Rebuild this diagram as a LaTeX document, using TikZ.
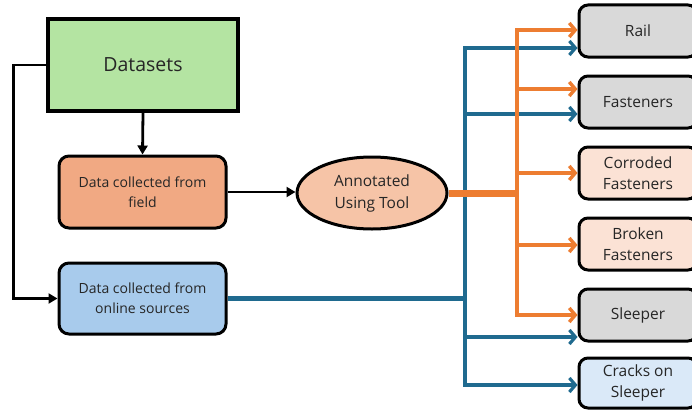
\documentclass[tikz,border=0pt]{standalone}
\usepackage{fontspec}
\setmainfont{Open Sans}
\usetikzlibrary{arrows.meta,shapes.geometric}
\definecolor{dsgreen}{HTML}{B4E4A2}
\definecolor{fieldfill}{HTML}{F1A983}
\definecolor{onlinefill}{HTML}{A8CBEC}
\definecolor{annfill}{HTML}{F6C4A7}
\definecolor{catgray}{HTML}{D9D9D9}
\definecolor{catpeach}{HTML}{FBE2D5}
\definecolor{catblue}{HTML}{DAE9F8}
\definecolor{flowor}{HTML}{ED7D31}
\definecolor{flowbl}{HTML}{1F6A8F}
\definecolor{txt}{HTML}{262626}
\tikzset{
  srcbox/.style={draw=black, line width=3pt, rounded corners=10pt, align=center, text=txt,
    minimum width=167pt, minimum height=72pt, font=\fontsize{14}{20}\selectfont},
  catbox/.style={draw=black, line width=3pt, rounded corners=9pt, align=center, text=txt,
    minimum width=118pt, minimum height=52pt, font=\fontsize{15.5}{21.5}\selectfont},
  blk/.style={draw=black, line width=2.8pt, -{Triangle[length=9pt,width=10pt]}},
  oline/.style={draw=flowor, line width=3.4pt},
  bline/.style={draw=flowbl, line width=3.2pt},
  oarr/.style={oline, -{Straight Barb[length=6pt,width=14pt]}},
  barr/.style={bline, -{Straight Barb[length=6pt,width=14pt]}},
}
\begin{document}
\begin{tikzpicture}[x=1pt,y=-1pt]
\useasboundingbox[fill=white] (0,0) rectangle (692,412);

% source boxes
\node[draw=black, line width=3.4pt, fill=dsgreen, minimum width=190pt, minimum height=92pt,
  text=txt, font=\fontsize{19.5}{22}\selectfont] (ds) at (143,65) {Datasets};
\node[srcbox, fill=fieldfill] (field) at (142.5,192) {Data collected from\\field};
\node[srcbox, fill=onlinefill, minimum height=71pt] (online) at (142.5,298.5) {Data collected from\\online sources};
\node[ellipse, draw=black, line width=3pt, fill=annfill, minimum width=150pt, minimum height=72pt,
  align=center, text=txt, font=\fontsize{15.5}{22}\selectfont, inner sep=0pt] (ann) at (372,193) {Annotated\\Using Tool};

% category boxes
\node[catbox, fill=catgray] (rail) at (638,31) {Rail};
\node[catbox, fill=catgray] (fast) at (638,102) {Fasteners};
\node[catbox, fill=catpeach] (corr) at (638,173) {Corroded\\Fasteners};
\node[catbox, fill=catpeach] (brok) at (638,244) {Broken\\Fasteners};
\node[catbox, fill=catgray] (sleep) at (638,315) {Sleeper};
\node[catbox, fill=catblue, minimum height=50pt] (crack) at (638,383) {Cracks on\\Sleeper};

% black connectors
\draw[blk] (ds.south) -- (field.north);
\draw[blk] (ds.west) -- ++(-33,0) |- (online.west);
\draw[blk] (field.east) -- (ann.west |- field.east);

% orange bus from the annotation tool
\coordinate (ojoin) at (ann.east -| 517,0);
\coordinate (oRail) at ([yshift=1pt]rail.west);
\coordinate (oFast) at ([yshift=13pt]fast.west);
\coordinate (oCorr) at (corr.west);
\coordinate (oBrok) at ([yshift=-1pt]brok.west);
\coordinate (oSleep) at (sleep.west);

% blue bus from online sources
\coordinate (bjoin) at (online.east -| 465,0);
\coordinate (bRail) at ([yshift=-17pt]rail.west);
\coordinate (bFast) at ([yshift=-12pt]fast.west);
\coordinate (bSleep) at ([yshift=-22pt]sleep.west);
\coordinate (bCrack) at ([yshift=-2pt]crack.west);

\draw[bline, line width=4.2pt] (online.east) -- (bjoin);
\draw[barr] (bjoin) |- (bRail);
\draw[barr] (bjoin) |- (bFast);
\draw[barr] (bjoin) |- (bSleep);
\draw[barr] (bjoin) |- (bCrack);

\draw[oline, line width=7pt] (ann.east) -- (ojoin);
\draw[oarr] (ojoin) |- (oRail);
\draw[oarr] (ojoin) |- (oFast);
\draw[oarr] (ojoin) |- (oCorr);
\draw[oarr] (ojoin) |- (oBrok);
\draw[oarr] (ojoin) |- (oSleep);
\end{tikzpicture}
\end{document}
